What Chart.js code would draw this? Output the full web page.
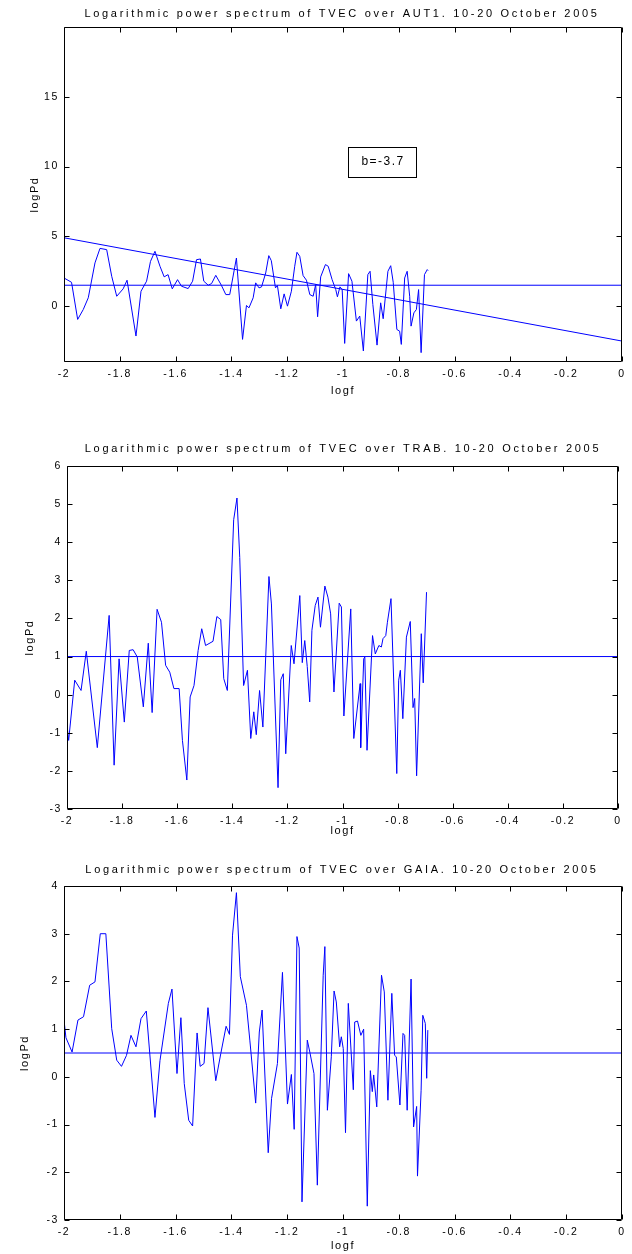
<!DOCTYPE html>
<html><head><meta charset="utf-8">
<script src="https://cdn.jsdelivr.net/npm/chart.js@4.4.1/dist/chart.umd.min.js"></script>
<style>
html,body{margin:0;padding:0;background:#fff;}
body{width:632px;height:1254px;position:relative;overflow:hidden;}
canvas{position:absolute;left:0;display:block;}
</style></head><body>
<canvas id="c1" width="632" height="405" style="top:0px"></canvas>
<canvas id="c2" width="632" height="420" style="top:420px"></canvas>
<canvas id="c3" width="632" height="409" style="top:845px"></canvas>
<script>
// ---------- shared axis data ----------
const xTickValues = [-2, -1.8, -1.6, -1.4, -1.2, -1, -0.8, -0.6, -0.4, -0.2, 0];
const xTickLabels = ['-2', '-1.8', '-1.6', '-1.4', '-1.2', '-1', '-0.8', '-0.6', '-0.4', '-0.2', '0'];
const xAxisTitle = 'logf';
const yAxisTitle = 'logPd';

// ---------- panel 1: AUT1 ----------
const title1 = 'Logarithmic power spectrum of TVEC over AUT1. 10-20 October 2005';
const yTicks1 = [0, 5, 10, 15];
const logf1 = [-2.000,-1.973,-1.951,-1.931,-1.913,-1.889,-1.871,-1.847,-1.829,-1.811,-1.788,-1.774,-1.742,-1.724,-1.704,-1.690,-1.674,-1.656,-1.641,-1.627,-1.612,-1.593,-1.579,-1.555,-1.539,-1.525,-1.511,-1.499,-1.483,-1.471,-1.456,-1.436,-1.420,-1.406,-1.382,-1.360,-1.346,-1.337,-1.322,-1.313,-1.301,-1.292,-1.277,-1.266,-1.257,-1.242,-1.235,-1.223,-1.211,-1.199,-1.185,-1.173,-1.165,-1.155,-1.143,-1.131,-1.119,-1.107,-1.098,-1.091,-1.080,-1.063,-1.053,-1.039,-1.026,-1.020,-1.011,-1.003,-0.994,-0.980,-0.968,-0.952,-0.940,-0.927,-0.911,-0.903,-0.893,-0.878,-0.865,-0.856,-0.839,-0.829,-0.820,-0.807,-0.797,-0.791,-0.779,-0.770,-0.761,-0.756,-0.746,-0.737,-0.729,-0.720,-0.708,-0.698,-0.695];
const logPd1 = [2.02,1.71,-0.95,-0.24,0.60,3.10,4.14,4.05,2.14,0.71,1.24,1.86,-2.14,1.07,1.79,3.21,3.93,2.86,2.10,2.26,1.24,1.90,1.43,1.26,1.79,3.33,3.38,1.79,1.50,1.62,2.21,1.50,0.83,0.83,3.45,-2.38,0.05,-0.12,0.60,1.67,1.31,1.38,2.38,3.62,3.26,1.31,1.48,-0.19,0.88,0.00,1.07,2.86,3.86,3.57,2.19,1.86,0.83,0.71,1.55,-0.76,2.10,2.98,2.86,1.90,1.19,0.67,1.38,1.19,-2.67,2.33,1.79,-1.07,-0.71,-3.21,2.26,2.50,0.12,-2.79,0.24,-0.90,2.50,2.90,1.71,-1.67,-1.79,-2.74,2.02,2.50,0.71,-1.43,-0.48,-0.24,1.19,-3.33,2.26,2.62,2.55];
const mean1 = 1.5;
const fitSlope1 = -3.7;
const fitIntercept1 = -2.5;
const fitLabel1 = 'b=-3.7';

// ---------- panel 2: TRAB ----------
const title2 = 'Logarithmic power spectrum of TVEC over TRAB. 10-20 October 2005';
const yTicks2 = [-3, -2, -1, 0, 1, 2, 3, 4, 5, 6];
const logf2 = [-2.000,-1.994,-1.972,-1.949,-1.930,-1.890,-1.847,-1.829,-1.811,-1.792,-1.774,-1.760,-1.745,-1.723,-1.705,-1.691,-1.673,-1.657,-1.642,-1.627,-1.612,-1.593,-1.581,-1.565,-1.553,-1.539,-1.524,-1.511,-1.497,-1.470,-1.456,-1.442,-1.431,-1.418,-1.395,-1.383,-1.373,-1.359,-1.345,-1.333,-1.322,-1.313,-1.301,-1.289,-1.267,-1.258,-1.234,-1.224,-1.215,-1.206,-1.186,-1.176,-1.155,-1.146,-1.137,-1.128,-1.119,-1.111,-1.099,-1.089,-1.080,-1.064,-1.053,-1.043,-1.031,-1.012,-1.004,-0.995,-0.970,-0.959,-0.936,-0.934,-0.923,-0.919,-0.911,-0.891,-0.881,-0.868,-0.859,-0.853,-0.843,-0.837,-0.824,-0.803,-0.796,-0.790,-0.781,-0.768,-0.754,-0.744,-0.738,-0.731,-0.714,-0.707,-0.695];
const logPd2 = [-0.80,-1.20,0.38,0.11,1.14,-1.39,2.08,-1.85,0.94,-0.72,1.16,1.18,0.99,-0.32,1.35,-0.47,2.24,1.90,0.77,0.59,0.16,0.16,-1.20,-2.24,-0.06,0.24,1.16,1.73,1.29,1.40,2.05,1.97,0.42,0.11,4.59,5.16,3.60,0.24,0.64,-1.15,-0.45,-1.05,0.11,-0.85,3.10,2.38,-2.44,0.39,0.55,-1.55,1.29,0.81,2.60,0.84,1.42,0.74,-0.19,1.69,2.34,2.56,1.77,2.85,2.56,2.12,0.07,2.40,2.30,-0.56,2.25,-1.15,0.29,-1.39,0.94,0.99,-1.46,1.55,1.07,1.29,1.25,1.47,1.55,1.90,2.52,-2.07,0.38,0.64,-0.63,1.51,1.92,-0.34,-0.10,-2.13,1.60,0.31,2.69];
const mean2 = 1.0;

// ---------- panel 3: GAIA ----------
const title3 = 'Logarithmic power spectrum of TVEC over GAIA. 10-20 October 2005';
const yTicks3 = [-3, -2, -1, 0, 1, 2, 3, 4];
const logf3 = [-2.000,-1.993,-1.971,-1.950,-1.930,-1.908,-1.889,-1.870,-1.850,-1.829,-1.811,-1.794,-1.776,-1.760,-1.742,-1.724,-1.705,-1.674,-1.656,-1.626,-1.613,-1.595,-1.581,-1.569,-1.553,-1.539,-1.523,-1.512,-1.498,-1.484,-1.456,-1.438,-1.419,-1.407,-1.396,-1.382,-1.368,-1.346,-1.334,-1.313,-1.300,-1.290,-1.268,-1.256,-1.235,-1.217,-1.199,-1.185,-1.175,-1.165,-1.157,-1.147,-1.128,-1.119,-1.104,-1.092,-1.071,-1.065,-1.056,-1.042,-1.032,-1.024,-1.012,-1.006,-0.999,-0.991,-0.981,-0.963,-0.958,-0.948,-0.936,-0.926,-0.913,-0.902,-0.895,-0.890,-0.879,-0.862,-0.852,-0.839,-0.825,-0.815,-0.809,-0.796,-0.785,-0.779,-0.770,-0.756,-0.747,-0.736,-0.733,-0.720,-0.714,-0.705,-0.700,-0.696];
const logPd3 = [1.19,0.82,0.52,1.19,1.26,1.92,1.99,3.00,3.00,1.01,0.35,0.22,0.45,0.87,0.63,1.22,1.38,-0.85,0.34,1.54,1.84,0.07,1.24,-0.14,-0.91,-1.03,0.92,0.22,0.28,1.45,-0.08,0.49,1.06,0.89,2.97,3.86,2.10,1.50,0.77,-0.55,0.94,1.40,-1.59,-0.45,0.28,2.19,-0.57,0.05,-1.10,2.94,2.70,-2.62,0.77,0.52,0.07,-2.27,2.13,2.73,-0.70,0.42,1.80,1.57,0.63,0.84,0.59,-1.17,1.54,-0.27,1.15,1.17,0.87,1.00,-2.71,0.13,-0.31,0.04,-0.63,2.13,1.78,-0.49,1.75,0.45,0.42,-0.59,0.91,0.87,-0.70,2.05,-1.05,-0.62,-2.08,-0.28,1.29,1.12,-0.03,0.98];
const mean3 = 0.5;

// ---------- drawing ----------
const FONT = '"Liberation Sans", Arial, sans-serif';
const BLUE = '#0000ff';
const TICK_FONT = { family: FONT, size: 10.5 };

function pts(xs, ys) { return xs.map((x, i) => ({ x: x, y: ys[i] })); }

function framePlugin(p) {
  return {
    id: 'frameText',
    beforeDraw(chart) { chart.ctx.letterSpacing = '1.6px'; },
    afterDraw(chart) {
      const ctx = chart.ctx, a = chart.chartArea, x = chart.scales.x, y = chart.scales.y;
      ctx.save();
      ctx.letterSpacing = '0px';
      ctx.strokeStyle = '#000';
      ctx.lineWidth = 1;
      const L = Math.round(a.left) + 0.5, R = Math.round(a.right) - 0.5;
      const T = Math.round(a.top) + 0.5, B = Math.round(a.bottom) - 0.5;
      ctx.beginPath();
      ctx.rect(L, T, R - L, B - T);
      xTickValues.forEach(v => {
        const px = Math.round(x.getPixelForValue(v)) + 0.5;
        ctx.moveTo(px, B); ctx.lineTo(px, B - 5);
        ctx.moveTo(px, T); ctx.lineTo(px, T + 5);
      });
      p.yTicks.forEach(v => {
        const py = Math.round(y.getPixelForValue(v)) + 0.5;
        ctx.moveTo(L, py); ctx.lineTo(L + 5, py);
        ctx.moveTo(R, py); ctx.lineTo(R - 5, py);
      });
      ctx.stroke();
      // title
      ctx.fillStyle = '#000';
      ctx.font = '11px ' + FONT;
      ctx.letterSpacing = p.titleSpacing;
      ctx.textAlign = 'center';
      ctx.textBaseline = 'middle';
      ctx.fillText(p.title, p.titleX, p.titleY);
      // annotation box
      if (p.note) {
        const cx = x.getPixelForValue(p.note.x), cy = y.getPixelForValue(p.note.y);
        const w = 68, h = 30;
        const bx = Math.round(cx - w / 2) + 0.5, by = Math.round(cy - h / 2) + 0.5;
        ctx.fillStyle = '#fff';
        ctx.fillRect(bx, by, w, h);
        ctx.strokeRect(bx, by, w, h);
        ctx.fillStyle = '#000';
        ctx.font = '12px ' + FONT;
        ctx.letterSpacing = '1.5px';
        ctx.fillText(p.note.text, cx + 1, cy);
      }
      ctx.restore();
    }
  };
}

function makePanel(id, p) {
  const datasets = [
    { data: pts(p.xs, p.ys), borderColor: BLUE, borderWidth: 1, pointRadius: 0, tension: 0, fill: false },
    { data: [{ x: -2, y: p.mean }, { x: 0, y: p.mean }], borderColor: BLUE, borderWidth: 1, pointRadius: 0, fill: false }
  ];
  if (p.fit) {
    datasets.push({ data: [{ x: -2, y: p.fit.b * -2 + p.fit.a }, { x: 0, y: p.fit.a }],
      borderColor: BLUE, borderWidth: 1, pointRadius: 0, fill: false });
  }
  new Chart(document.getElementById(id), {
    type: 'line',
    data: { datasets },
    options: {
      responsive: false,
      animation: false,
      events: [],
      layout: { padding: { top: p.top, right: p.right, left: 0, bottom: 0 } },
      plugins: { legend: { display: false }, tooltip: { enabled: false }, title: { display: false } },
      scales: {
        x: {
          type: 'linear', min: -2, max: 0,
          grid: { display: false, drawTicks: false }, border: { display: false },
          afterBuildTicks: s => { s.ticks = xTickValues.map(v => ({ value: v })); },
          afterFit: s => { s.height = p.xh; },
          ticks: { color: '#000', font: TICK_FONT, padding: 6, maxRotation: 0, autoSkip: false,
                   callback: (v, i) => xTickLabels[i] },
          title: { display: true, text: xAxisTitle, color: '#000', font: { family: FONT, size: 11 }, padding: { top: 0, bottom: p.xtPad } }
        },
        y: {
          type: 'linear', min: p.ymin, max: p.ymax,
          grid: { display: false, drawTicks: false }, border: { display: false },
          afterBuildTicks: s => { s.ticks = p.yTicks.map(v => ({ value: v })); },
          afterFit: s => { s.width = p.left; },
          ticks: { color: '#000', font: TICK_FONT, padding: 5, autoSkip: false,
                   callback: v => String(v) },
          title: { display: true, text: yAxisTitle, color: '#000', font: { family: FONT, size: 11 }, padding: { top: p.ytPad, bottom: 0 } }
        }
      }
    },
    plugins: [framePlugin(p)]
  });
}

makePanel('c1', { xs: logf1, ys: logPd1, mean: mean1, fit: { b: fitSlope1, a: fitIntercept1 },
  note: { x: -0.86, y: 10.35, text: fitLabel1 },
  ymin: -4, ymax: 20, yTicks: yTicks1, title: title1, titleX: 342, titleY: 14, titleSpacing: '2.7px',
  top: 27, right: 10, left: 64, xh: 43, xtPad: 7, ytPad: 28 });

makePanel('c2', { xs: logf2, ys: logPd2, mean: mean2,
  ymin: -3, ymax: 6, yTicks: yTicks2, title: title2, titleX: 343, titleY: 29, titleSpacing: '2.7px',
  top: 46, right: 14, left: 67, xh: 31, xtPad: 2, ytPad: 23 });

makePanel('c3', { xs: logf3, ys: logPd3, mean: mean3,
  ymin: -3, ymax: 4, yTicks: yTicks3, title: title3, titleX: 342, titleY: 25, titleSpacing: '2.7px',
  top: 41, right: 10, left: 64, xh: 34, xtPad: 1, ytPad: 18 });
</script>
</body></html>
